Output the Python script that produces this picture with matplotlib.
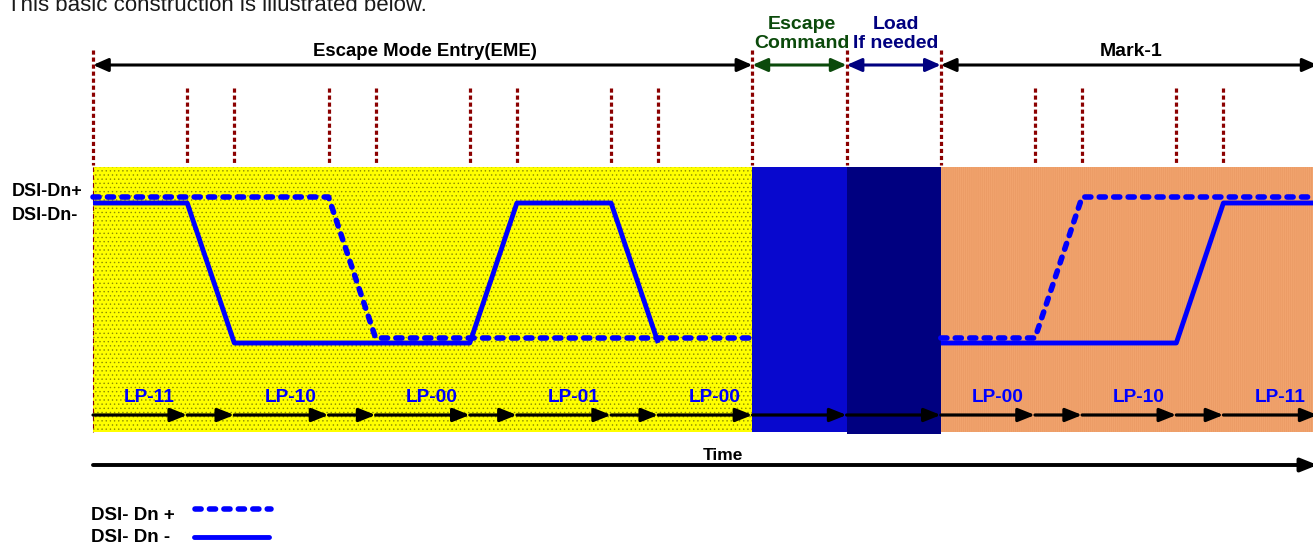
import matplotlib
matplotlib.use('Agg')
import matplotlib.pyplot as plt
from matplotlib.patches import Rectangle

plt.rcParams['font.family'] = ['Liberation Sans', 'DejaVu Sans']
plt.rcParams['hatch.linewidth'] = 0.5

# ---------------- data ----------------
tall_marks = [0, 14, 16, 18]
short_marks = [2, 3, 5, 6, 8, 9, 11, 12, 20, 21, 23, 24]
chain_times = [0, 2, 3, 5, 6, 8, 9, 11, 12, 14, 16, 18, 20, 21, 23, 24, 26]

phase_names = ['Escape Mode Entry(EME)', 'Escape\nCommand', 'Load\nIf needed', 'Mark-1']
phase_start = [0, 14, 16, 18]
phase_end = [14, 16, 18, 26]

lp_states = ['LP-11', 'LP-10', 'LP-00', 'LP-01', 'LP-00', 'LP-00', 'LP-10', 'LP-11']
lp_start = [0, 3, 6, 9, 12, 18, 21, 24]

dp_t1 = [0, 5, 6, 14]
dp_l1 = [1, 1, 0, 0]
dp_t2 = [18, 20, 21, 26]
dp_l2 = [0, 0, 1, 1]
dn_t1 = [0, 2, 3, 8, 9, 11, 12]
dn_l1 = [1, 1, 0, 0, 1, 1, 0]
dn_t2 = [18, 23, 24, 26]
dn_l2 = [0, 0, 1, 1]

# ---------------- layout ----------------
W, H = 1313, 545
X0, UNIT = 93, 47.1


def tx(px):
    return (px - X0) / UNIT


fig = plt.figure(figsize=(W / 100, H / 100), dpi=100)
ax = fig.add_axes([0, 0, 1, 1])
ax.set_xlim(tx(0), tx(W))
ax.set_ylim(H, 0)
ax.axis('off')

RECT_TOP, RECT_BOT = 167, 432

# background regions
region_colors = ['#FFFF00', '#0808CE', '#000080', '#F1A36D']
region_hatch = ['....', None, None, '||||||||']
region_hcol = ['#8c8c00', '#0808CE', '#000080', '#EA9A63']
for i, (s, e, c, h, hc) in enumerate(zip(phase_start, phase_end, region_colors,
                                          region_hatch, region_hcol)):
    bot = RECT_BOT + (2 if i == 2 else 0)
    r = Rectangle((s, RECT_TOP), e - s, bot - RECT_TOP, facecolor=c,
                  edgecolor=hc, hatch=h, linewidth=0, zorder=1)
    ax.add_patch(r)

# dotted markers
mark_col = '#8B0000'
for t in tall_marks:
    ax.plot([t, t], [50, RECT_TOP - 2], color=mark_col, lw=2.3,
            linestyle=(0, (1.3, 0.9)), zorder=2)
for t in short_marks:
    ax.plot([t, t], [88, RECT_TOP - 2], color=mark_col, lw=2.3,
            linestyle=(0, (1.3, 0.9)), zorder=2)
ax.plot([tall_marks[0]] * 2, [RECT_TOP, RECT_BOT], color=mark_col, lw=0.8,
        linestyle=(0, (4, 3)), zorder=2)

# phase arrows
phase_colors = ['black', '#0B4A0B', '#000080', 'black']
phase_text_y = [51, 34, 34, 52]
phase_fs = [13.4, 14, 14, 14]
for s, e, n, c, ty, fs in zip(phase_start, phase_end, phase_names, phase_colors,
                              phase_text_y, phase_fs):
    ax.annotate('', xy=(e, 65), xytext=(s, 65), annotation_clip=False,
                arrowprops=dict(arrowstyle='<|-|>,head_length=0.5,head_width=0.22',
                                color=c, lw=2.2, shrinkA=0, shrinkB=0,
                                mutation_scale=18), zorder=5)
    ax.text((s + e) / 2 + 0.05, ty, n, ha='center', va='center',
            fontsize=fs, fontweight='bold', color=c, linespacing=1.2, zorder=6)

# signals
YP_HI, YP_LO = 197, 338
YN_HI, YN_LO = 203, 343


def lv(levels, hi, lo):
    return [lo - l * (lo - hi) for l in levels]


for t, l in [(dp_t1, dp_l1), (dp_t2, dp_l2)]:
    ax.plot(t, lv(l, YP_HI, YP_LO), color='#0000FF', lw=4,
            linestyle=(0, (1.1, 1.5)), dash_capstyle='round',
            solid_joinstyle='round', zorder=4)
for t, l in [(dn_t1, dn_l1), (dn_t2, dn_l2)]:
    ax.plot(t, lv(l, YN_HI, YN_LO), color='#0000FF', lw=3.5,
            solid_capstyle='butt', zorder=4)

# LP labels
for s, n in zip(lp_start, lp_states):
    ax.text(s + 1.2, 397, n, ha='center', va='center', fontsize=13.8,
            fontweight='bold', color='#0000FF', zorder=6)

# chain arrows
for a, b in zip(chain_times[:-1], chain_times[1:]):
    ax.annotate('', xy=(b, 415), xytext=(a, 415), annotation_clip=False,
                arrowprops=dict(arrowstyle='-|>,head_length=0.5,head_width=0.2',
                                color='black', lw=2.3, shrinkA=0, shrinkB=0,
                                mutation_scale=20), zorder=5)

# time arrow
ax.annotate('', xy=(chain_times[-1], 465), xytext=(chain_times[0], 465),
            annotation_clip=False,
            arrowprops=dict(arrowstyle='-|>,head_length=0.5,head_width=0.2',
                            color='black', lw=2.8, shrinkA=0, shrinkB=0,
                            mutation_scale=20), zorder=5)
ax.text(tx(723), 455, 'Time', ha='center', va='center', fontsize=12.5,
        fontweight='bold', color='black')

# left labels
ax.text(tx(12), 192, 'DSI-Dn+', ha='left', va='center', fontsize=13,
        fontweight='bold', color='black')
ax.text(tx(12), 215, 'DSI-Dn-', ha='left', va='center', fontsize=13,
        fontweight='bold', color='black')

# top caption
ax.text(tx(7), 11, 'This basic construction is illustrated below.', ha='left',
        va='baseline', fontsize=16, color='#1a1a1a')

# legend
ax.text(tx(91), 515, 'DSI- Dn +', ha='left', va='center', fontsize=13.5,
        fontweight='bold', color='black')
ax.text(tx(91), 538, 'DSI- Dn -', ha='left', va='center', fontsize=13.5,
        fontweight='bold', color='black')
ax.plot([tx(195), tx(271)], [509, 509], color='#0000FF', lw=4,
        linestyle=(0, (1.1, 1.5)), dash_capstyle='round')
ax.plot([tx(194), tx(269)], [537, 537], color='#0000FF', lw=3.5,
        solid_capstyle='round')

fig.savefig('out.png', dpi=100)
